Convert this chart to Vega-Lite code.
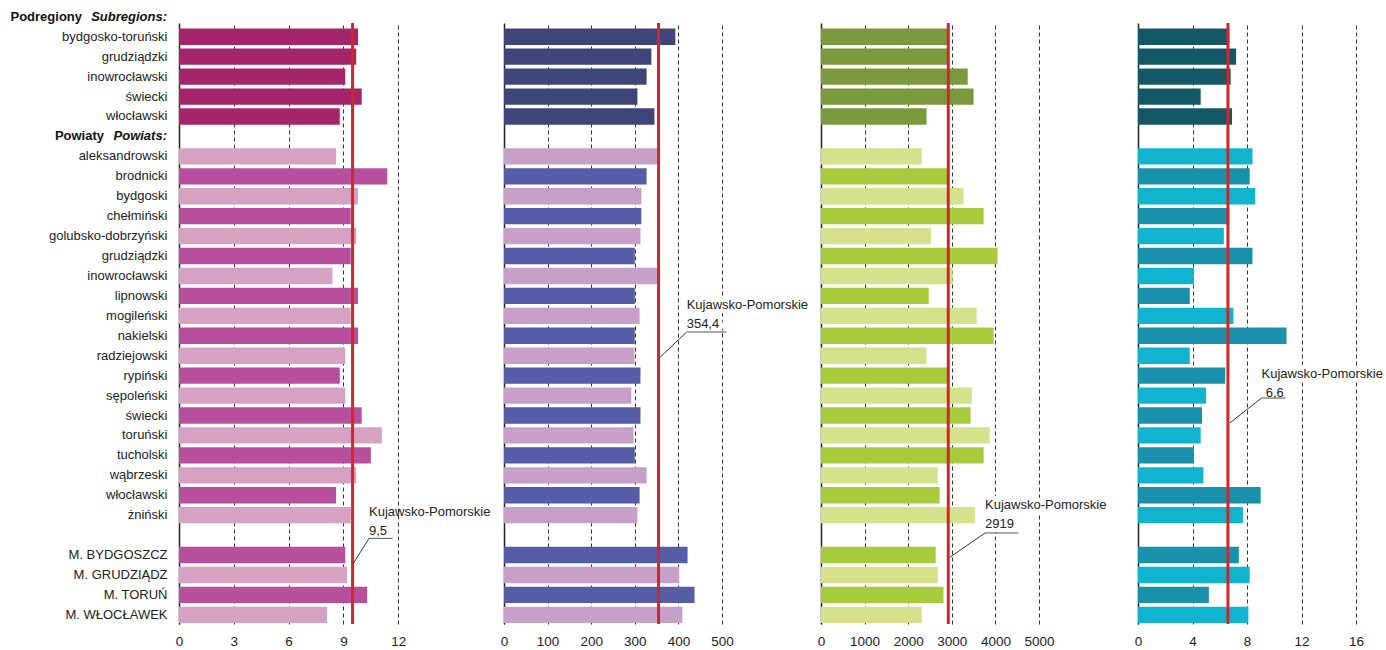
{
  "$schema": "https://vega.github.io/schema/vega-lite/v6.json",
  "background": "white",
  "padding": {"left": 10, "top": 10, "right": 0, "bottom": 0},
  "autosize": {"type": "pad"},
  "bounds": "flush",
  "spacing": 99,
  "config": {
    "font": "Liberation Sans",
    "view": {"stroke": null},
    "axisX": {"grid": true, "gridDash": [4, 3], "gridColor": "#333", "gridWidth": 1, "ticks": false, "domain": false, "labelFontSize": 13.5, "labelColor": "#222", "labelPadding": 10, "title": null, "labelFlush": false, "format": "d"},
    "axisY": {"grid": false, "ticks": false, "domain": true, "domainColor": "#222", "domainWidth": 1.5, "title": null, "labelFontSize": 13, "labelColor": "#222", "labelPadding": 12},
    "text": {"fontSize": 13, "color": "#222"}
  },
  "resolve": {"scale": {"x": "independent", "y": "independent", "color": "independent"}},
  "data": {"values": [
    {"k": "bydgosko-toruński", "t": "s", "a": 9.8, "b": 393, "c": 2890, "d": 6.7},
    {"k": "grudziądzki ", "t": "s", "a": 9.7, "b": 338, "c": 2900, "d": 7.2},
    {"k": "inowrocławski ", "t": "s", "a": 9.1, "b": 327, "c": 3365, "d": 6.8},
    {"k": "świecki ", "t": "s", "a": 10.0, "b": 306, "c": 3500, "d": 4.6},
    {"k": "włocławski ", "t": "s", "a": 8.8, "b": 345, "c": 2420, "d": 6.9},
    {"k": "aleksandrowski", "t": "l", "a": 8.6, "b": 352, "c": 2310, "d": 8.4},
    {"k": "brodnicki", "t": "d", "a": 11.4, "b": 327, "c": 2890, "d": 8.2},
    {"k": "bydgoski", "t": "l", "a": 9.8, "b": 315, "c": 3270, "d": 8.6},
    {"k": "chełmiński", "t": "d", "a": 9.4, "b": 315, "c": 3730, "d": 6.7},
    {"k": "golubsko-dobrzyński", "t": "l", "a": 9.7, "b": 313, "c": 2520, "d": 6.3},
    {"k": "grudziądzki", "t": "d", "a": 9.4, "b": 300, "c": 4050, "d": 8.4},
    {"k": "inowrocławski", "t": "l", "a": 8.4, "b": 352, "c": 3020, "d": 4.1},
    {"k": "lipnowski", "t": "d", "a": 9.8, "b": 300, "c": 2470, "d": 3.8},
    {"k": "mogileński", "t": "l", "a": 9.4, "b": 311, "c": 3570, "d": 7.0},
    {"k": "nakielski", "t": "d", "a": 9.8, "b": 300, "c": 3960, "d": 10.9},
    {"k": "radziejowski", "t": "l", "a": 9.1, "b": 299, "c": 2420, "d": 3.8},
    {"k": "rypiński", "t": "d", "a": 8.8, "b": 313, "c": 2890, "d": 6.4},
    {"k": "sępoleński", "t": "l", "a": 9.1, "b": 292, "c": 3460, "d": 5.0},
    {"k": "świecki", "t": "d", "a": 10.0, "b": 313, "c": 3430, "d": 4.7},
    {"k": "toruński", "t": "l", "a": 11.1, "b": 297, "c": 3870, "d": 4.6},
    {"k": "tucholski", "t": "d", "a": 10.5, "b": 300, "c": 3730, "d": 4.1},
    {"k": "wąbrzeski", "t": "l", "a": 9.7, "b": 327, "c": 2680, "d": 4.8},
    {"k": "włocławski", "t": "d", "a": 8.6, "b": 311, "c": 2720, "d": 9.0},
    {"k": "żniński", "t": "l", "a": 9.4, "b": 306, "c": 3530, "d": 7.7},
    {"k": "M. BYDGOSZCZ", "t": "d", "a": 9.1, "b": 421, "c": 2630, "d": 7.4},
    {"k": "M. GRUDZIĄDZ", "t": "l", "a": 9.2, "b": 402, "c": 2680, "d": 8.2},
    {"k": "M. TORUŃ", "t": "d", "a": 10.3, "b": 437, "c": 2810, "d": 5.2},
    {"k": "M. WŁOCŁAWEK", "t": "l", "a": 8.1, "b": 409, "c": 2310, "d": 8.1}
  ]},
  "hconcat": [
    {
      "width": 226, "height": 601,
      "layer": [
        {"mark": {"type": "bar"}, "encoding": {
          "y": {"field": "k", "type": "nominal", "scale": {"domain": ["bydgosko-toruński","grudziądzki ","inowrocławski ","świecki ","włocławski ","#h","aleksandrowski","brodnicki","bydgoski","chełmiński","golubsko-dobrzyński","grudziądzki","inowrocławski","lipnowski","mogileński","nakielski","radziejowski","rypiński","sępoleński","świecki","toruński","tucholski","wąbrzeski","włocławski","żniński","#b","M. BYDGOSZCZ","M. GRUDZIĄDZ","M. TORUŃ","M. WŁOCŁAWEK"], "paddingInner": 0.18, "paddingOuter": 0.165, "align": 0.85}, "axis": {"labelExpr": "indexof(datum.value, '#') == 0 ? '' : trim(datum.value)"}},
          "x": {"field": "a", "type": "quantitative", "scale": {"domain": [0, 12.37], "nice": false}, "axis": {"values": [0, 3, 6, 9, 12]}},
          "color": {"field": "t", "type": "nominal", "scale": {"domain": ["s", "d", "l"], "range": ["#A5256A", "#B84F9E", "#D6A1C2"]}, "legend": null}}},
        {"data": {"values": [{"avg": 9.5}]}, "mark": {"type": "rule", "color": "#D3262B", "strokeWidth": 3}, "encoding": {"x": {"field": "avg", "type": "quantitative"}}},
        {"data": {"values": [{}]}, "mark": {"type": "rule", "color": "#333", "strokeWidth": 1}, "encoding": {"x": {"datum": 10.4}, "x2": {"datum": 9.55}, "y": {"datum": "#b", "bandPosition": 0.7}, "y2": {"datum": "M. BYDGOSZCZ", "bandPosition": 1.0}}},
        {"data": {"values": [{}]}, "mark": {"type": "rule", "color": "#555", "strokeWidth": 1}, "encoding": {"x": {"datum": 10.4}, "x2": {"datum": 11.7}, "y": {"datum": "#b", "bandPosition": 0.7}}},
        {"data": {"values": [{"s": "Kujawsko-Pomorskie"}]}, "mark": {"type": "text", "align": "left", "dy": -3}, "encoding": {"x": {"datum": 10.4}, "y": {"datum": "żniński"}, "text": {"field": "s"}}},
        {"data": {"values": [{"s": "9,5"}]}, "mark": {"type": "text", "align": "left", "dy": -4}, "encoding": {"x": {"datum": 10.4}, "y": {"datum": "#b"}, "text": {"field": "s"}}},
        {"data": {"values": [{"s": "Subregions:"}]}, "mark": {"type": "text", "align": "right", "dx": -12, "dy": -20, "fontWeight": "bold", "fontStyle": "italic", "color": "#111"}, "encoding": {"x": {"datum": 0}, "y": {"datum": "bydgosko-toruński"}, "text": {"field": "s"}}},
        {"data": {"values": [{"s": "Podregiony"}]}, "mark": {"type": "text", "align": "right", "dx": -97, "dy": -20, "fontWeight": "bold", "color": "#111"}, "encoding": {"x": {"datum": 0}, "y": {"datum": "bydgosko-toruński"}, "text": {"field": "s"}}},
        {"data": {"values": [{"s": "Powiats:"}]}, "mark": {"type": "text", "align": "right", "dx": -12, "fontWeight": "bold", "fontStyle": "italic", "color": "#111"}, "encoding": {"x": {"datum": 0}, "y": {"datum": "#h"}, "text": {"field": "s"}}},
        {"data": {"values": [{"s": "Powiaty"}]}, "mark": {"type": "text", "align": "right", "dx": -75, "fontWeight": "bold", "color": "#111"}, "encoding": {"x": {"datum": 0}, "y": {"datum": "#h"}, "text": {"field": "s"}}}
      ]
    },
    {
      "width": 218, "height": 601,
      "layer": [
        {"mark": {"type": "bar"}, "encoding": {
          "y": {"field": "k", "type": "nominal", "scale": {"domain": ["bydgosko-toruński","grudziądzki ","inowrocławski ","świecki ","włocławski ","#h","aleksandrowski","brodnicki","bydgoski","chełmiński","golubsko-dobrzyński","grudziądzki","inowrocławski","lipnowski","mogileński","nakielski","radziejowski","rypiński","sępoleński","świecki","toruński","tucholski","wąbrzeski","włocławski","żniński","#b","M. BYDGOSZCZ","M. GRUDZIĄDZ","M. TORUŃ","M. WŁOCŁAWEK"], "paddingInner": 0.18, "paddingOuter": 0.165, "align": 0.85}, "axis": {"labels": false}},
          "x": {"field": "b", "type": "quantitative", "scale": {"domain": [0, 500], "nice": false}, "axis": {"values": [0, 100, 200, 300, 400, 500]}},
          "color": {"field": "t", "type": "nominal", "scale": {"domain": ["s", "d", "l"], "range": ["#3F4479", "#545DA5", "#C7A0C9"]}, "legend": null}}},
        {"data": {"values": [{"avg": 354.4}]}, "mark": {"type": "rule", "color": "#D3262B", "strokeWidth": 3}, "encoding": {"x": {"field": "avg", "type": "quantitative"}}},
        {"data": {"values": [{}]}, "mark": {"type": "rule", "color": "#333", "strokeWidth": 1}, "encoding": {"x": {"datum": 419}, "x2": {"datum": 357}, "y": {"datum": "nakielski", "bandPosition": 0.27}, "y2": {"datum": "radziejowski", "bandPosition": 0.62}}},
        {"data": {"values": [{"s": "Kujawsko-Pomorskie"}]}, "mark": {"type": "text", "align": "left", "dy": 9, "stroke": "white", "strokeWidth": 9, "strokeJoin": "round"}, "encoding": {"x": {"datum": 419}, "y": {"datum": "lipnowski"}, "text": {"field": "s"}}},
        {"data": {"values": [{"s": "354,4"}]}, "mark": {"type": "text", "align": "left", "dy": 8, "stroke": "white", "strokeWidth": 9, "strokeJoin": "round"}, "encoding": {"x": {"datum": 419}, "y": {"datum": "mogileński"}, "text": {"field": "s"}}},
        {"data": {"values": [{"s": "Kujawsko-Pomorskie"}]}, "mark": {"type": "text", "align": "left", "dy": 9}, "encoding": {"x": {"datum": 419}, "y": {"datum": "lipnowski"}, "text": {"field": "s"}}},
        {"data": {"values": [{"s": "354,4"}]}, "mark": {"type": "text", "align": "left", "dy": 8}, "encoding": {"x": {"datum": 419}, "y": {"datum": "mogileński"}, "text": {"field": "s"}}},
        {"data": {"values": [{}]}, "mark": {"type": "rule", "color": "#555", "strokeWidth": 1}, "encoding": {"x": {"datum": 419}, "x2": {"datum": 510}, "y": {"datum": "nakielski", "bandPosition": 0.27}}}
      ]
    },
    {
      "width": 218, "height": 601,
      "layer": [
        {"mark": {"type": "bar"}, "encoding": {
          "y": {"field": "k", "type": "nominal", "scale": {"domain": ["bydgosko-toruński","grudziądzki ","inowrocławski ","świecki ","włocławski ","#h","aleksandrowski","brodnicki","bydgoski","chełmiński","golubsko-dobrzyński","grudziądzki","inowrocławski","lipnowski","mogileński","nakielski","radziejowski","rypiński","sępoleński","świecki","toruński","tucholski","wąbrzeski","włocławski","żniński","#b","M. BYDGOSZCZ","M. GRUDZIĄDZ","M. TORUŃ","M. WŁOCŁAWEK"], "paddingInner": 0.18, "paddingOuter": 0.165, "align": 0.85}, "axis": {"labels": false}},
          "x": {"field": "c", "type": "quantitative", "scale": {"domain": [0, 5000], "nice": false}, "axis": {"values": [0, 1000, 2000, 3000, 4000, 5000]}},
          "color": {"field": "t", "type": "nominal", "scale": {"domain": ["s", "d", "l"], "range": ["#7A993D", "#A7CB3B", "#D5E18B"]}, "legend": null}}},
        {"data": {"values": [{"avg": 2919}]}, "mark": {"type": "rule", "color": "#D3262B", "strokeWidth": 3}, "encoding": {"x": {"field": "avg", "type": "quantitative"}}},
        {"data": {"values": [{}]}, "mark": {"type": "rule", "color": "#333", "strokeWidth": 1}, "encoding": {"x": {"datum": 3763}, "x2": {"datum": 2960}, "y": {"datum": "#b", "bandPosition": 0.37}, "y2": {"datum": "M. BYDGOSZCZ", "bandPosition": 0.63}}},
        {"data": {"values": [{"s": "Kujawsko-Pomorskie"}]}, "mark": {"type": "text", "align": "left", "dy": 10, "stroke": "white", "strokeWidth": 9, "strokeJoin": "round"}, "encoding": {"x": {"datum": 3763}, "y": {"datum": "włocławski"}, "text": {"field": "s"}}},
        {"data": {"values": [{"s": "2919"}]}, "mark": {"type": "text", "align": "left", "dy": 9, "stroke": "white", "strokeWidth": 9, "strokeJoin": "round"}, "encoding": {"x": {"datum": 3763}, "y": {"datum": "żniński"}, "text": {"field": "s"}}},
        {"data": {"values": [{"s": "Kujawsko-Pomorskie"}]}, "mark": {"type": "text", "align": "left", "dy": 10}, "encoding": {"x": {"datum": 3763}, "y": {"datum": "włocławski"}, "text": {"field": "s"}}},
        {"data": {"values": [{"s": "2919"}]}, "mark": {"type": "text", "align": "left", "dy": 9}, "encoding": {"x": {"datum": 3763}, "y": {"datum": "żniński"}, "text": {"field": "s"}}},
        {"data": {"values": [{}]}, "mark": {"type": "rule", "color": "#555", "strokeWidth": 1}, "encoding": {"x": {"datum": 3763}, "x2": {"datum": 4529}, "y": {"datum": "#b", "bandPosition": 0.37}}}
      ]
    },
    {
      "width": 218, "height": 601,
      "layer": [
        {"mark": {"type": "bar"}, "encoding": {
          "y": {"field": "k", "type": "nominal", "scale": {"domain": ["bydgosko-toruński","grudziądzki ","inowrocławski ","świecki ","włocławski ","#h","aleksandrowski","brodnicki","bydgoski","chełmiński","golubsko-dobrzyński","grudziądzki","inowrocławski","lipnowski","mogileński","nakielski","radziejowski","rypiński","sępoleński","świecki","toruński","tucholski","wąbrzeski","włocławski","żniński","#b","M. BYDGOSZCZ","M. GRUDZIĄDZ","M. TORUŃ","M. WŁOCŁAWEK"], "paddingInner": 0.18, "paddingOuter": 0.165, "align": 0.85}, "axis": {"labels": false}},
          "x": {"field": "d", "type": "quantitative", "scale": {"domain": [0, 16], "nice": false}, "axis": {"values": [0, 4, 8, 12, 16]}},
          "color": {"field": "t", "type": "nominal", "scale": {"domain": ["s", "d", "l"], "range": ["#145868", "#1990AC", "#11B4CF"]}, "legend": null}}},
        {"data": {"values": [{"avg": 6.6}]}, "mark": {"type": "rule", "color": "#D3262B", "strokeWidth": 3}, "encoding": {"x": {"field": "avg", "type": "quantitative"}}},
        {"data": {"values": [{}]}, "mark": {"type": "rule", "color": "#333", "strokeWidth": 1}, "encoding": {"x": {"datum": 9.07}, "x2": {"datum": 6.75}, "y": {"datum": "sępoleński", "bandPosition": 0.65}, "y2": {"datum": "świecki", "bandPosition": 0.95}}},
        {"data": {"values": [{"s": "Kujawsko-Pomorskie"}]}, "mark": {"type": "text", "align": "left", "dy": -2, "stroke": "white", "strokeWidth": 9, "strokeJoin": "round"}, "encoding": {"x": {"datum": 9.07}, "y": {"datum": "rypiński"}, "text": {"field": "s"}}},
        {"data": {"values": [{"s": "6,6"}]}, "mark": {"type": "text", "align": "left", "dy": -3, "stroke": "white", "strokeWidth": 9, "strokeJoin": "round"}, "encoding": {"x": {"datum": 9.37}, "y": {"datum": "sępoleński"}, "text": {"field": "s"}}},
        {"data": {"values": [{"s": "Kujawsko-Pomorskie"}]}, "mark": {"type": "text", "align": "left", "dy": -2}, "encoding": {"x": {"datum": 9.07}, "y": {"datum": "rypiński"}, "text": {"field": "s"}}},
        {"data": {"values": [{"s": "6,6"}]}, "mark": {"type": "text", "align": "left", "dy": -3}, "encoding": {"x": {"datum": 9.37}, "y": {"datum": "sępoleński"}, "text": {"field": "s"}}},
        {"data": {"values": [{}]}, "mark": {"type": "rule", "color": "#555", "strokeWidth": 1}, "encoding": {"x": {"datum": 9.07}, "x2": {"datum": 10.84}, "y": {"datum": "sępoleński", "bandPosition": 0.65}}}
      ]
    }
  ]
}
